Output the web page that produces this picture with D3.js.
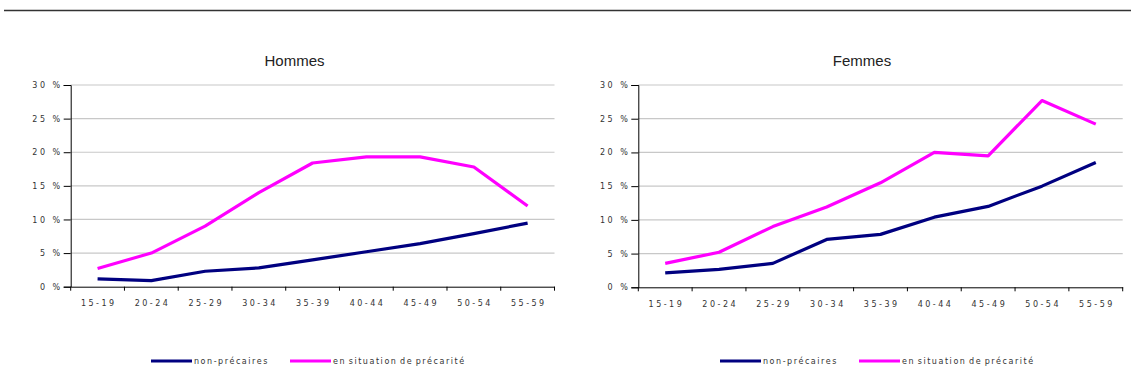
<!DOCTYPE html>
<html>
<head>
<meta charset="utf-8">
<script src="https://cdn.jsdelivr.net/npm/d3@7"></script>
<style>
  body { margin: 0; background: #fff; }
  .tick-lbl { font-family: "DejaVu Sans", Verdana, sans-serif; font-size: 8px; fill: #333; letter-spacing: 2.5px; }
  .title { font-family: "Liberation Sans Narrow", "Liberation Sans", Arial, sans-serif; font-size: 15px; fill: #222; }
  .legend { font-family: "DejaVu Sans", Verdana, sans-serif; font-size: 8px; fill: #333; letter-spacing: 1.55px; word-spacing: -1.5px; }
</style>
</head>
<body>
<div id="chart"></div>
<script>
// age groups
const ageGroups = ["15-19", "20-24", "25-29", "30-34", "35-39", "40-44", "45-49", "50-54", "55-59"];
const yTicks = [0, 5, 10, 15, 20, 25, 30];

// Hommes (%)
const hommesNonPrecaires = [1.15, 0.9, 2.3, 2.8, 4.0, 5.2, 6.4, 7.9, 9.45];
const hommesPrecarite = [2.7, 5.0, 9.0, 14.0, 18.4, 19.3, 19.3, 17.8, 12.0];

// Femmes (%)
const femmesNonPrecaires = [2.15, 2.65, 3.55, 7.1, 7.85, 10.4, 12.0, 15.0, 18.5];
const femmesPrecarite = [3.55, 5.2, 9.0, 11.9, 15.5, 20.0, 19.5, 27.7, 24.2];

const seriesNames = ["non-précaires", "en situation de précarité"];
const colors = {navy: "#000080", magenta: "#ff00ff"};

const W = 1131, H = 378;
const svg = d3.select("#chart").append("svg")
    .attr("width", W)
    .attr("height", H);

// top rule
svg.append("line")
    .attr("x1", 4).attr("x2", W)
    .attr("y1", 10.5).attr("y2", 10.5)
    .attr("stroke", "#333")
    .attr("stroke-width", 1.6);

function drawPanel(opts) {
    let x = d3.scaleBand()
        .domain(ageGroups)
        .range([opts.left, opts.right]);

    let y = d3.scaleLinear()
        .domain([0, 30])
        .range([opts.bottom, opts.top]);

    let g = svg.append("g");

    // gridlines
    g.selectAll(".grid")
        .data(yTicks.filter(d => d > 0))
        .enter().append("line")
        .attr("x1", opts.left).attr("x2", opts.right)
        .attr("y1", d => y(d)).attr("y2", d => y(d))
        .attr("stroke", "#c8c8c8")
        .attr("stroke-width", 1.2);

    // y axis
    let yAxis = d3.axisLeft(y)
        .tickValues(yTicks)
        .tickSize(7)
        .tickPadding(1)
        .tickFormat(d => d + " %");
    let ya = g.append("g")
        .attr("transform", "translate(" + opts.left + ",0)")
        .call(yAxis);
    ya.select(".domain").attr("stroke", "#000");
    ya.selectAll(".tick line").attr("stroke", "#000");
    ya.selectAll(".tick text").attr("class", "tick-lbl").attr("font-family", null).attr("font-size", null);

    // x axis
    let xAxis = d3.axisBottom(x).tickSize(0).tickPadding(14);
    let xa = g.append("g")
        .attr("transform", "translate(0," + opts.bottom + ")")
        .call(xAxis);
    xa.select(".domain").attr("stroke", "#000");
    xa.selectAll(".tick text").attr("class", "tick-lbl").attr("font-family", null).attr("font-size", null)
        .attr("dx", "1.2px");

    // category boundary ticks
    let bounds = ageGroups.map(d => x(d)).concat([opts.right]);
    g.selectAll(".xb")
        .data(bounds)
        .enter().append("line")
        .attr("x1", d => d).attr("x2", d => d)
        .attr("y1", opts.bottom).attr("y2", opts.bottom + 4)
        .attr("stroke", "#000");

    let line = d3.line()
        .x((d, i) => x(ageGroups[i]) + x.bandwidth() / 2)
        .y(d => y(d));

    g.append("path")
        .datum(opts.nonPrec)
        .attr("d", line)
        .attr("fill", "none")
        .attr("stroke", colors.navy)
        .attr("stroke-width", 3.2)
        .attr("stroke-linejoin", "round");

    g.append("path")
        .datum(opts.prec)
        .attr("d", line)
        .attr("fill", "none")
        .attr("stroke", colors.magenta)
        .attr("stroke-width", 3.2)
        .attr("stroke-linejoin", "round");

    // title
    g.append("text")
        .attr("class", "title")
        .attr("x", opts.titleX)
        .attr("y", 65.5)
        .attr("text-anchor", "middle")
        .text(opts.title);

    // legend
    let legY = 361;
    [[colors.navy, seriesNames[0], 0], [colors.magenta, seriesNames[1], 139]].forEach(([c, name, off]) => {
        g.append("line")
            .attr("x1", opts.legX + off).attr("x2", opts.legX + off + 41)
            .attr("y1", legY).attr("y2", legY)
            .attr("stroke", c)
            .attr("stroke-width", 3);
        g.append("text")
            .attr("class", "legend")
            .attr("x", opts.legX + off + 43)
            .attr("y", legY + 3)
            .text(name);
    });
}

drawPanel({
    left: 70.7, right: 554.5, top: 85, bottom: 286.7,
    title: "Hommes", titleX: 294.5, legX: 151,
    nonPrec: hommesNonPrecaires, prec: hommesPrecarite
});

drawPanel({
    left: 638.3, right: 1122.7, top: 85, bottom: 287.3,
    title: "Femmes", titleX: 862, legX: 720,
    nonPrec: femmesNonPrecaires, prec: femmesPrecarite
});
</script>
</body>
</html>
